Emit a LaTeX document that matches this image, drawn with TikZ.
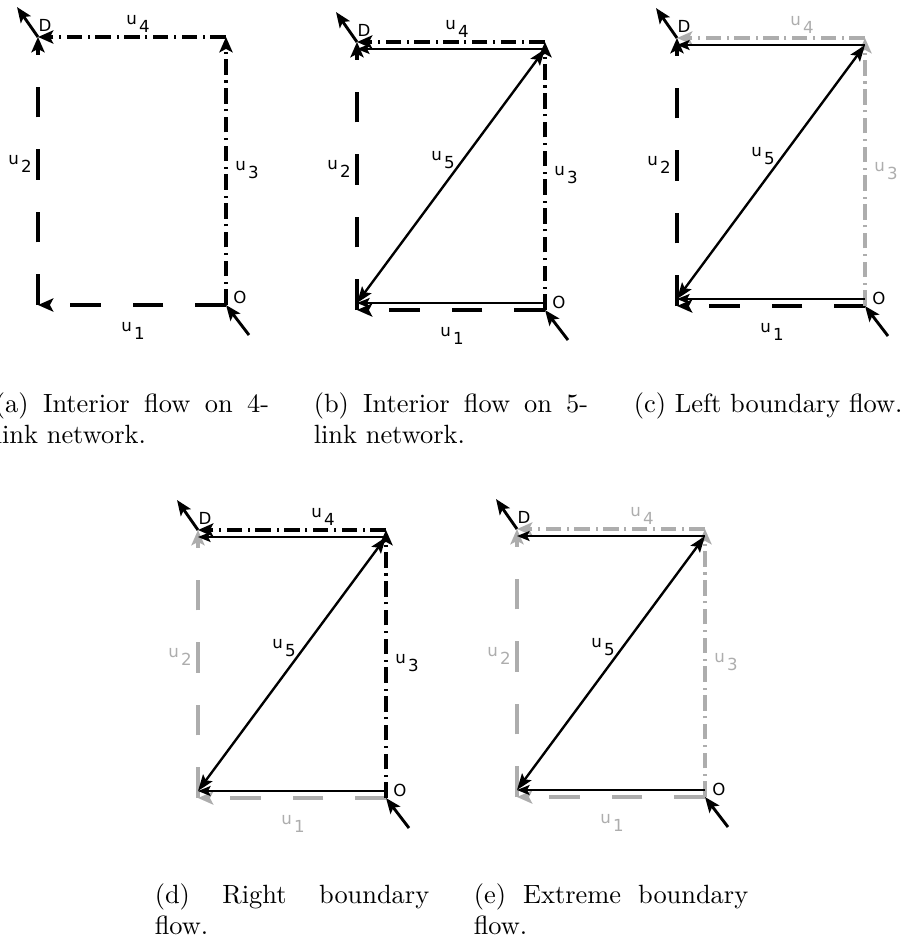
\documentclass[tikz,border=0pt]{standalone}
\usepackage{fontspec}
\newfontfamily\labelfont{DejaVu Sans}
\usetikzlibrary{arrows.meta,positioning,calc}

\colorlet{faded}{black!32}
\newcommand{\ulab}[1]{u\kern0.8pt\raisebox{-3pt}{#1}}

\begin{document}
\begin{tikzpicture}[
    x=0.379pt, y=-0.379pt,
    link/.style={line width=1.15pt},
    dashlink/.style={link, dash pattern=on 11.7pt off 12pt},
    dotlink/.style={link, dash pattern=on 5.9pt off 2.1pt on 0.8pt off 2.1pt},
    bigtip/.style={-{Stealth[length=5.8pt,width=5pt,inset=1.3pt]}},
    flow/.style={line width=0.65pt, -{Stealth[length=4.8pt,width=3.8pt,inset=1pt]}},
    diag/.style={line width=0.9pt, {Stealth[length=6.2pt,width=4.4pt,inset=1.2pt]}-{Stealth[length=6.2pt,width=4.4pt,inset=1.2pt]}},
    ext/.style={line width=1.1pt, -{Stealth[length=5.8pt,width=4.6pt,inset=1.2pt]}},
    lab/.style={font=\labelfont\fontsize{6.3}{7}\selectfont, inner sep=0pt},
    subcap/.style={text width=104pt, align=justify, anchor=north, inner sep=0pt, font=\normalsize}
]
    \useasboundingbox (0,0) rectangle (909,936);

    % the four links of each network
    \foreach \p/\bx/\by/\ca/\cb/\cc/\cd/\ux in {a/38/305/black/black/black/black/100,
        b/357/310/black/black/black/black/100, c/677/306/black/black/faded/faded/125,
        d/198/798/faded/faded/black/black/125, e/517/797/faded/faded/faded/faded/125}{
        \coordinate (\p-BL) at (\bx,\by);
        \coordinate (\p-O) at (\bx+188,\by);
        \coordinate (\p-TR) at (\bx+188,\by-268);
        \coordinate (\p-D) at (\bx,\by-268);
        \coordinate (\p-in) at (\bx+211,\by+30);
        \coordinate (\p-out) at (\bx-21,\by-298);

        \draw[dashlink, bigtip, draw=\ca] (\p-O) -- (\p-BL);
        \draw[dashlink, bigtip, draw=\cb] (\p-BL) -- (\p-D);
        \draw[dotlink, bigtip, draw=\cc] (\p-O) -- (\p-TR);
        \draw[dotlink, bigtip, draw=\cd] (\p-TR) -- (\p-D);
        \draw[ext] (\p-in) -- (\p-O);
        \draw[ext] (\p-D) -- (\p-out);

        \node[lab, text=\ca] (\p-u1) at (\bx+95,\by+26) {\ulab{1}};
        \node[lab, text=\cb] (\p-u2) at (\bx-18,\by-141) {\ulab{2}};
        \node[lab, text=\cc] (\p-u3) at (\bx+209,\by-135) {\ulab{3}};
        \node[lab, text=\cd] (\p-u4) at (\bx+\ux,\by-281) {\ulab{4}};
        \node[lab] (\p-Dlab) at (\bx+7,\by-280) {D};
        \node[lab] (\p-Olab) at (\bx+202,\by-8) {O};
    }

    % flow through the fifth link
    \foreach \p in {b,c,d,e}{
        \coordinate (\p-lo) at ($(\p-BL)+(0,-7)$);
        \coordinate (\p-Olo) at ($(\p-O)+(0,-7)$);
        \coordinate (\p-hi) at ($(\p-D)+(0,7)$);
        \coordinate (\p-TRhi) at ($(\p-TR)+(0,7)$);
        \draw[flow] (\p-Olo) -- (\p-lo);
        \draw[diag] (\p-lo) -- (\p-TRhi);
        \draw[flow] (\p-TRhi) -- (\p-hi);
        \node[lab] (\p-u5) at ($(\p-BL)+(86,-150)$) {\ulab{5}};
    }

    \node[subcap] (cap-a) at (132,392) {(a) Interior flow on 4-link network.};
    \node[subcap] (cap-b) at (451,392) {(b) Interior flow on 5-link network.};
    \node[subcap] (cap-c) at (771,392) {(c) Left boundary flow.};
    \node[subcap] (cap-d) at (292,883) {(d) Right boundary flow.};
    \node[subcap] (cap-e) at (611,883) {(e) Extreme boundary flow.};
\end{tikzpicture}
\end{document}
